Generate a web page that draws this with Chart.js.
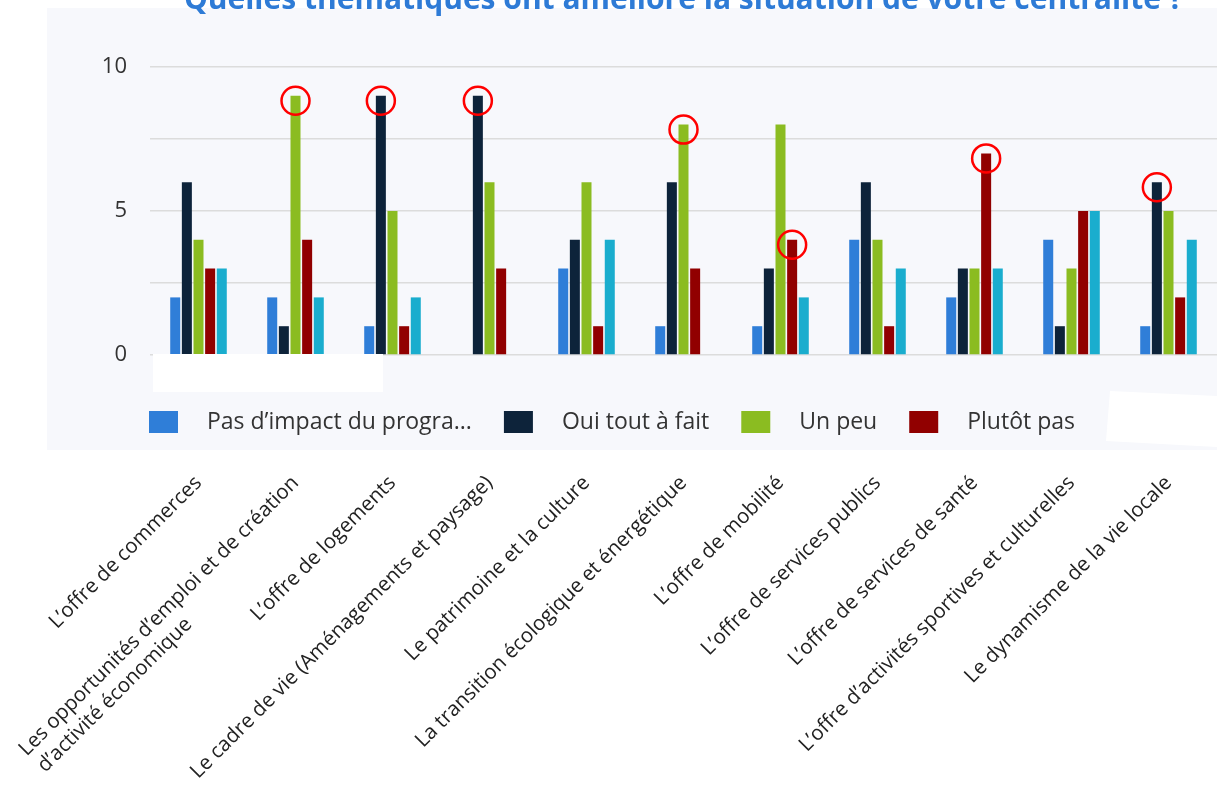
<!DOCTYPE html>
<html lang="fr">
<head>
<meta charset="utf-8">
<script src="https://cdn.jsdelivr.net/npm/chart.js@4.4.1/dist/chart.umd.min.js"></script>
<style>
  html, body { margin: 0; padding: 0; background: #fff; overflow: hidden; }
  #wrap { position: absolute; left: 0; top: -24px; width: 1217px; height: 811px; }
</style>
</head>
<body>
<div id="wrap"><canvas id="chart"></canvas></div>
<script>
// catégories (axe x)
const categories = [
  "L’offre de commerces",
  ["Les opportunités d’emploi et de création", "d’activité économique"],
  "L’offre de logements",
  "Le cadre de vie (Aménagements et paysage)",
  "Le patrimoine et la culture",
  "La transition écologique et énergétique",
  "L’offre de mobilité",
  "L’offre de services publics",
  "L’offre de services de santé",
  "L’offre d’activités sportives et culturelles",
  "Le dynamisme de la vie locale"
];

// séries
const pasImpact    = [2, 2, 1, 0, 3, 1, 1, 4, 2, 4, 1];
const ouiToutAFait = [6, 1, 9, 9, 4, 6, 3, 6, 3, 1, 6];
const unPeu        = [4, 9, 5, 6, 6, 8, 8, 4, 3, 3, 5];
const plutotPas    = [3, 4, 1, 3, 1, 3, 4, 1, 7, 5, 2];
const cinquieme    = [3, 2, 2, 0, 4, 0, 2, 3, 3, 5, 4]; // légende masquée

const seriesLabels = ["Pas d’impact du progra...", "Oui tout à fait", "Un peu", "Plutôt pas", ""];
const seriesColors = ["#2f7ed8", "#0d233a", "#8bbc21", "#910000", "#1aadce"];
const yTickLabels = [0, 5, 10];

// barres entourées en rouge : [catégorie, série]
const highlights = [[1, 2], [2, 1], [3, 1], [5, 2], [6, 3], [8, 3], [10, 1]];

const titre = "Quelles thématiques ont amélioré la situation de votre centralité ?";

const labelFont = '20.5px "Open Sans"';

// libellés sur 2 lignes : on cale les lignes à gauche (espaces insécables)
const mesure = document.createElement("canvas").getContext("2d");
function alignerGauche(label) {
  if (!Array.isArray(label)) return label;
  mesure.font = labelFont;
  const larg = Math.max(...label.map(l => mesure.measureText(l).width));
  const esp = mesure.measureText("\u00A0").width;
  return label.map(l => l + "\u00A0".repeat(Math.round((larg - mesure.measureText(l).width) / esp)));
}

// fond du cadre
const fondPlugin = {
  id: "fond",
  beforeDraw(chart) {
    const { ctx, chartArea: a } = chart;
    ctx.save();
    ctx.fillStyle = "#f7f8fc";
    ctx.fillRect(a.left - 103, a.top - 59, a.right - a.left + 103, a.bottom - a.top + 154);
    ctx.restore();
  }
};

// cercles rouges
const cerclesPlugin = {
  id: "cercles",
  afterDatasetsDraw(chart) {
    const ctx = chart.ctx;
    ctx.save();
    ctx.strokeStyle = "#ff0000";
    ctx.lineWidth = 2.5;
    highlights.forEach(([i, d]) => {
      const bar = chart.getDatasetMeta(d).data[i];
      ctx.beginPath();
      ctx.arc(bar.x, bar.y + 5, 14, 0, Math.PI * 2);
      ctx.stroke();
    });
    ctx.restore();
  }
};

// légende sous l'axe, au-dessus des libellés
const legendePlugin = {
  id: "legende",
  afterDraw(chart) {
    const { ctx, chartArea: a } = chart;
    const yMid = a.bottom + 67;
    let x = a.left - 1;
    ctx.save();
    ctx.font = '23px "Open Sans"';
    ctx.textBaseline = "middle";
    chart.data.datasets.forEach(ds => {
      if (!ds.label) return;
      ctx.fillStyle = ds.backgroundColor;
      ctx.fillRect(x, yMid - 11, 29, 22);
      x += 58;
      ctx.fillStyle = "#333";
      ctx.fillText(ds.label, x, yMid);
      x += ctx.measureText(ds.label).width + 32;
    });

    // zones masquées en blanc
    ctx.fillStyle = "#fff";
    ctx.fillRect(a.left + 3, a.bottom - 1, 230, 38);
    ctx.beginPath();
    ctx.moveTo(a.left + 960, a.bottom + 36);
    ctx.lineTo(a.right, a.bottom + 41);
    ctx.lineTo(a.right, a.bottom + 92);
    ctx.lineTo(a.left + 956, a.bottom + 86);
    ctx.closePath();
    ctx.fill();
    ctx.restore();
  }
};

const allSeries = [pasImpact, ouiToutAFait, unPeu, plutotPas, cinquieme];

new Chart(document.getElementById("chart"), {
  type: "bar",
  data: {
    labels: categories.map(alignerGauche),
    datasets: allSeries.map((vals, k) => ({
      label: seriesLabels[k],
      data: vals,
      backgroundColor: seriesColors[k],
      borderWidth: 0,
      categoryPercentage: 0.6,
      barPercentage: 0.86
    }))
  },
  options: {
    responsive: true,
    maintainAspectRatio: false,
    animation: false,
    layout: { padding: 0 },
    plugins: {
      legend: { display: false },
      tooltip: { enabled: false },
      title: {
        display: true,
        text: titre,
        fullSize: false,
        color: "#2e7bd6",
        font: { family: "Open Sans", size: 30, weight: "bold", lineHeight: 1.2 },
        padding: { top: 6, bottom: 49 }
      }
    },
    scales: {
      x: {
        grid: { display: false },
        border: { display: false },
        afterFit: s => { s.height = 432; s.paddingLeft = 0; s.paddingRight = 0; },
        ticks: {
          autoSkip: false,
          minRotation: 45,
          maxRotation: 45,
          padding: 108,
          color: "#222",
          font: { family: "Open Sans", size: 20.5 }
        }
      },
      y: {
        min: 0,
        max: 10,
        afterFit: s => { s.width = 150; },
        border: { display: false },
        grid: { color: "#dcdcdc", lineWidth: 1.5, drawTicks: false },
        ticks: {
          stepSize: 2.5,
          padding: 23,
          color: "#333",
          font: { family: "Open Sans", size: 22 },
          callback: v => (yTickLabels.includes(v) ? v : "")
        }
      }
    }
  },
  plugins: [fondPlugin, cerclesPlugin, legendePlugin]
});
</script>
</body>
</html>
